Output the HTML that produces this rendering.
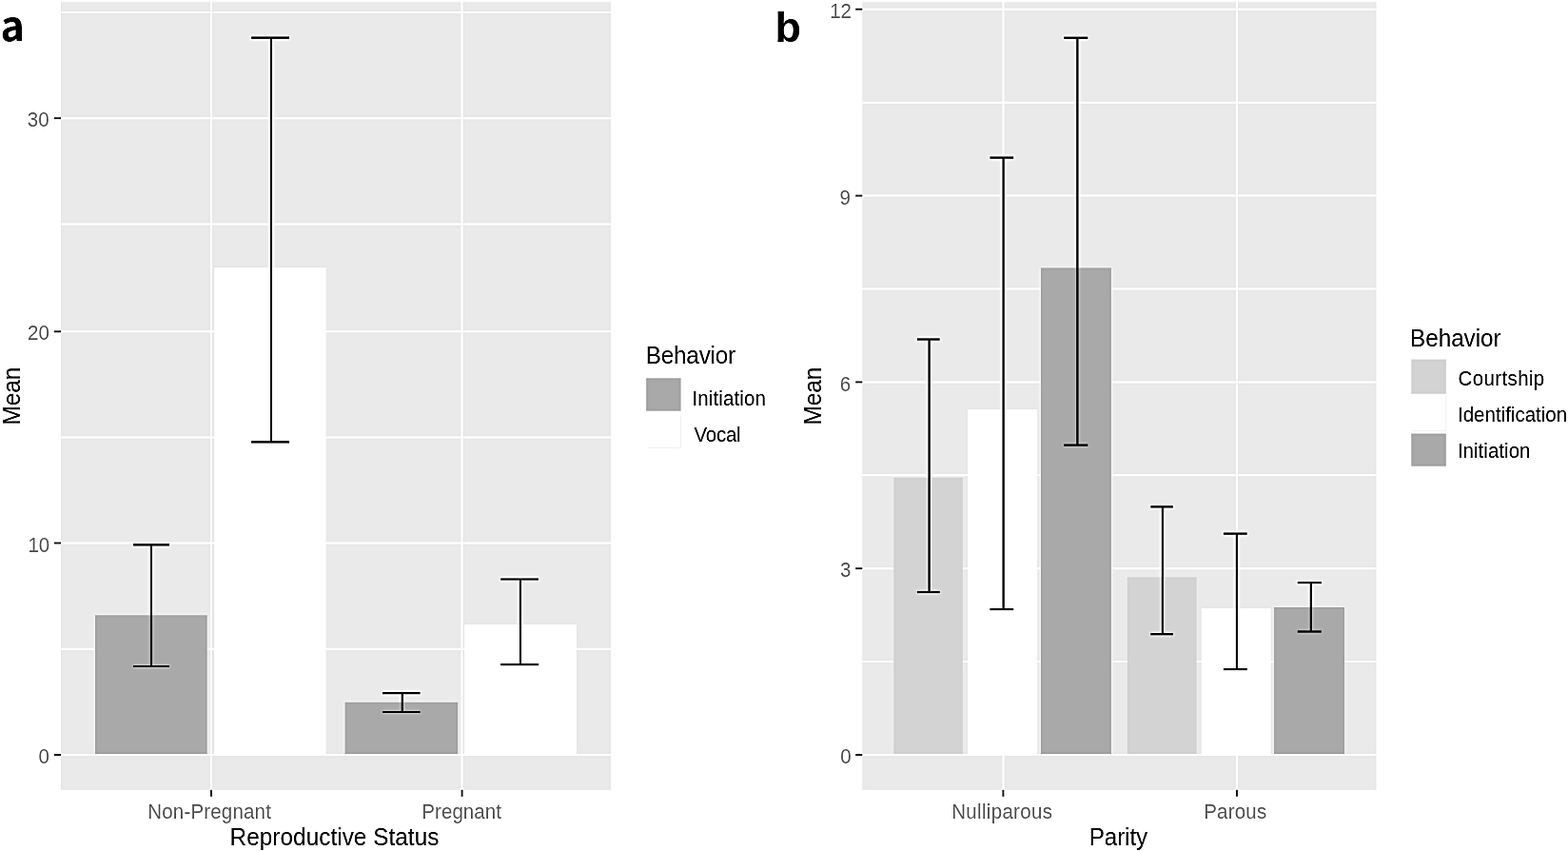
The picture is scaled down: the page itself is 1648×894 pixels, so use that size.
<!DOCTYPE html>
<html><head><meta charset="utf-8"><title>Figure</title>
<style>
html,body{margin:0;padding:0;background:#fff;width:1648px;height:894px;overflow:hidden}
svg{display:block}
text{font-family:"Liberation Sans", Arial, Helvetica, sans-serif}
</style></head><body>
<svg width="1648" height="894" viewBox="0 0 1648 894">
<defs><filter id="usm" filterUnits="userSpaceOnUse" x="0" y="0" width="1648" height="894" color-interpolation-filters="sRGB"><feGaussianBlur in="SourceGraphic" stdDeviation="0.45" result="soft"/><feGaussianBlur in="soft" stdDeviation="1.6" result="bl"/><feComposite in="soft" in2="bl" operator="arithmetic" k1="0" k2="1.6" k3="-0.6" k4="0"/></filter></defs>
<g filter="url(#usm)">
<rect x="0" y="0" width="1648" height="894" fill="#fff"/>
<rect x="64.00" y="1.00" width="578.20" height="828.80" fill="#EAEAEA"/>
<line x1="64.00" y1="681.75" x2="642.20" y2="681.75" stroke="#fff" stroke-width="2.0"/>
<line x1="64.00" y1="459.50" x2="642.20" y2="459.50" stroke="#fff" stroke-width="2.0"/>
<line x1="64.00" y1="235.60" x2="642.20" y2="235.60" stroke="#fff" stroke-width="2.0"/>
<line x1="64.00" y1="13.10" x2="642.20" y2="13.10" stroke="#fff" stroke-width="2.0"/>
<line x1="64.00" y1="793.00" x2="642.20" y2="793.00" stroke="#fff" stroke-width="2.0"/>
<line x1="64.00" y1="570.50" x2="642.20" y2="570.50" stroke="#fff" stroke-width="2.0"/>
<line x1="64.00" y1="348.30" x2="642.20" y2="348.30" stroke="#fff" stroke-width="2.0"/>
<line x1="64.00" y1="124.20" x2="642.20" y2="124.20" stroke="#fff" stroke-width="2.0"/>
<line x1="222.00" y1="1.00" x2="222.00" y2="829.80" stroke="#fff" stroke-width="2.0"/>
<line x1="485.50" y1="1.00" x2="485.50" y2="829.80" stroke="#fff" stroke-width="2.0"/>
<rect x="100.00" y="646.30" width="117.70" height="145.90" fill="#A9A9A9"/>
<rect x="225.00" y="281.00" width="117.60" height="511.20" fill="#FFFFFF"/>
<rect x="362.60" y="737.75" width="118.60" height="54.45" fill="#A9A9A9"/>
<rect x="488.00" y="656.10" width="117.80" height="136.10" fill="#FFFFFF"/>
<g stroke="#000" stroke-width="2.2" fill="none"><line x1="140.10" y1="572.30" x2="178.00" y2="572.30"/><line x1="140.10" y1="700.00" x2="178.00" y2="700.00"/><line x1="159.00" y1="572.30" x2="159.00" y2="700.00"/></g>
<g stroke="#000" stroke-width="2.2" fill="none"><line x1="264.20" y1="39.70" x2="304.00" y2="39.70"/><line x1="264.20" y1="464.40" x2="304.00" y2="464.40"/><line x1="285.00" y1="39.70" x2="285.00" y2="464.40"/></g>
<g stroke="#000" stroke-width="2.2" fill="none"><line x1="402.10" y1="728.20" x2="441.50" y2="728.20"/><line x1="402.10" y1="748.00" x2="441.50" y2="748.00"/><line x1="422.80" y1="728.20" x2="422.80" y2="748.00"/></g>
<g stroke="#000" stroke-width="2.2" fill="none"><line x1="526.30" y1="608.50" x2="565.90" y2="608.50"/><line x1="526.30" y1="698.20" x2="565.90" y2="698.20"/><line x1="546.90" y1="608.50" x2="546.90" y2="698.20"/></g>
<line x1="56.90" y1="793.00" x2="64.00" y2="793.00" stroke="#4A4A4A" stroke-width="2.0"/>
<text id="ay0" transform="translate(0 802.00) scale(1 1.05)" x="40.45" y="0" font-size="20.5" fill="#737373" font-weight="normal">0</text>
<line x1="56.90" y1="570.50" x2="64.00" y2="570.50" stroke="#4A4A4A" stroke-width="2.0"/>
<text id="ay10" transform="translate(0 579.70) scale(1 1.05)" x="29.40" y="0" font-size="20.5" fill="#737373" font-weight="normal">10</text>
<line x1="56.90" y1="348.30" x2="64.00" y2="348.30" stroke="#4A4A4A" stroke-width="2.0"/>
<text id="ay20" transform="translate(0 357.30) scale(1 1.05)" x="29.10" y="0" font-size="20.5" fill="#737373" font-weight="normal">20</text>
<line x1="56.90" y1="124.20" x2="64.00" y2="124.20" stroke="#4A4A4A" stroke-width="2.0"/>
<text id="ay30" transform="translate(0 133.20) scale(1 1.05)" x="28.80" y="0" font-size="20.5" fill="#737373" font-weight="normal">30</text>
<line x1="222.00" y1="829.80" x2="222.00" y2="836.80" stroke="#4A4A4A" stroke-width="2.0"/>
<text id="axNon-Pregnant" transform="translate(0 860.00) scale(1 1.05)" x="155.25" y="0" font-size="20.5" fill="#737373" font-weight="normal" textLength="129.64" lengthAdjust="spacing">Non-Pregnant</text>
<line x1="485.60" y1="829.80" x2="485.60" y2="836.80" stroke="#4A4A4A" stroke-width="2.0"/>
<text id="axPregnant" transform="translate(0 860.00) scale(1 1.05)" x="443.35" y="0" font-size="20.5" fill="#737373" font-weight="normal" textLength="83.60" lengthAdjust="spacing">Pregnant</text>
<text id="axt" transform="translate(0 888.20) scale(1 1.05)" x="241.60" y="0" font-size="24.3" fill="#000" font-weight="normal" textLength="219.80" lengthAdjust="spacing">Reproductive Status</text>
<text transform="translate(20.70,416.2) rotate(-90) scale(1 1.05)" x="0" y="0" font-size="24.3" fill="#000" text-anchor="middle">Mean</text>
<text id="atag" transform="translate(0 42.90) scale(1 1.0)" x="0.40" y="0" font-size="43" fill="#000" font-weight="bold" style='font-family:"Noto Sans CJK JP", "Liberation Sans", sans-serif'>a</text>
<text id="alt" transform="translate(0 382.30) scale(1 1.05)" x="678.70" y="0" font-size="24.3" fill="#000" font-weight="normal" textLength="94.51" lengthAdjust="spacing">Behavior</text>
<rect x="679.20" y="397.30" width="36.40" height="34.40" fill="#A9A9A9"/>
<text id="al0" transform="translate(0 425.60) scale(1 1.05)" x="727.50" y="0" font-size="20.5" fill="#000" font-weight="normal" textLength="77.36" lengthAdjust="spacing">Initiation</text>
<path d="M680.70 470.60 H715.60 V436.30" fill="none" stroke="#F3F3F3" stroke-width="1"/>
<text id="al1" transform="translate(0 463.50) scale(1 1.05)" x="729.50" y="0" font-size="20.5" fill="#000" font-weight="normal" textLength="49.16" lengthAdjust="spacing">Vocal</text>
<rect x="906.30" y="1.00" width="540.20" height="828.80" fill="#EAEAEA"/>
<line x1="906.30" y1="695.10" x2="1446.50" y2="695.10" stroke="#fff" stroke-width="2.0"/>
<line x1="906.30" y1="499.30" x2="1446.50" y2="499.30" stroke="#fff" stroke-width="2.0"/>
<line x1="906.30" y1="303.50" x2="1446.50" y2="303.50" stroke="#fff" stroke-width="2.0"/>
<line x1="906.30" y1="107.65" x2="1446.50" y2="107.65" stroke="#fff" stroke-width="2.0"/>
<line x1="906.30" y1="793.00" x2="1446.50" y2="793.00" stroke="#fff" stroke-width="2.0"/>
<line x1="906.30" y1="597.20" x2="1446.50" y2="597.20" stroke="#fff" stroke-width="2.0"/>
<line x1="906.30" y1="401.40" x2="1446.50" y2="401.40" stroke="#fff" stroke-width="2.0"/>
<line x1="906.30" y1="205.60" x2="1446.50" y2="205.60" stroke="#fff" stroke-width="2.0"/>
<line x1="906.30" y1="9.70" x2="1446.50" y2="9.70" stroke="#fff" stroke-width="2.0"/>
<line x1="1054.50" y1="1.00" x2="1054.50" y2="829.80" stroke="#fff" stroke-width="2.0"/>
<line x1="1300.00" y1="1.00" x2="1300.00" y2="829.80" stroke="#fff" stroke-width="2.0"/>
<rect x="939.30" y="501.80" width="72.50" height="290.40" fill="#D3D3D3"/>
<rect x="1017.00" y="430.20" width="73.10" height="362.00" fill="#FFFFFF"/>
<rect x="1094.00" y="281.40" width="73.90" height="510.80" fill="#A9A9A9"/>
<rect x="1184.80" y="606.30" width="72.80" height="185.90" fill="#D3D3D3"/>
<rect x="1262.80" y="639.20" width="72.80" height="153.00" fill="#FFFFFF"/>
<rect x="1339.10" y="638.00" width="74.00" height="154.20" fill="#A9A9A9"/>
<g stroke="#000" stroke-width="2.2" fill="none"><line x1="963.90" y1="356.50" x2="987.60" y2="356.50"/><line x1="963.90" y1="622.00" x2="987.60" y2="622.00"/><line x1="976.60" y1="356.50" x2="976.60" y2="622.00"/></g>
<g stroke="#000" stroke-width="2.2" fill="none"><line x1="1040.50" y1="165.60" x2="1065.20" y2="165.60"/><line x1="1040.50" y1="640.10" x2="1065.20" y2="640.10"/><line x1="1054.60" y1="165.60" x2="1054.60" y2="640.10"/></g>
<g stroke="#000" stroke-width="2.2" fill="none"><line x1="1118.30" y1="39.70" x2="1143.30" y2="39.70"/><line x1="1118.30" y1="467.60" x2="1143.30" y2="467.60"/><line x1="1132.40" y1="39.70" x2="1132.40" y2="467.60"/></g>
<g stroke="#000" stroke-width="2.2" fill="none"><line x1="1209.40" y1="532.40" x2="1232.80" y2="532.40"/><line x1="1209.40" y1="666.20" x2="1232.80" y2="666.20"/><line x1="1221.90" y1="532.40" x2="1221.90" y2="666.20"/></g>
<g stroke="#000" stroke-width="2.2" fill="none"><line x1="1285.90" y1="560.60" x2="1310.60" y2="560.60"/><line x1="1285.90" y1="703.10" x2="1310.60" y2="703.10"/><line x1="1299.90" y1="560.60" x2="1299.90" y2="703.10"/></g>
<g stroke="#000" stroke-width="2.2" fill="none"><line x1="1363.80" y1="612.10" x2="1388.70" y2="612.10"/><line x1="1363.80" y1="663.50" x2="1388.70" y2="663.50"/><line x1="1377.85" y1="612.10" x2="1377.85" y2="663.50"/></g>
<line x1="899.20" y1="793.00" x2="906.30" y2="793.00" stroke="#4A4A4A" stroke-width="2.0"/>
<text id="by0" transform="translate(0 802.00) scale(1 1.05)" x="883.15" y="0" font-size="20.5" fill="#737373" font-weight="normal">0</text>
<line x1="899.20" y1="597.20" x2="906.30" y2="597.20" stroke="#4A4A4A" stroke-width="2.0"/>
<text id="by3" transform="translate(0 606.20) scale(1 1.05)" x="882.90" y="0" font-size="20.5" fill="#737373" font-weight="normal">3</text>
<line x1="899.20" y1="401.40" x2="906.30" y2="401.40" stroke="#4A4A4A" stroke-width="2.0"/>
<text id="by6" transform="translate(0 410.70) scale(1 1.05)" x="882.80" y="0" font-size="20.5" fill="#737373" font-weight="normal">6</text>
<line x1="899.20" y1="205.60" x2="906.30" y2="205.60" stroke="#4A4A4A" stroke-width="2.0"/>
<text id="by9" transform="translate(0 214.80) scale(1 1.05)" x="882.60" y="0" font-size="20.5" fill="#737373" font-weight="normal">9</text>
<line x1="899.20" y1="9.70" x2="906.30" y2="9.70" stroke="#4A4A4A" stroke-width="2.0"/>
<text id="by12" transform="translate(0 18.70) scale(1 1.05)" x="872.20" y="0" font-size="20.5" fill="#737373" font-weight="normal">12</text>
<line x1="1054.40" y1="829.80" x2="1054.40" y2="836.80" stroke="#4A4A4A" stroke-width="2.0"/>
<text id="bxNulliparous" transform="translate(0 860.00) scale(1 1.05)" x="1000.20" y="0" font-size="20.5" fill="#737373" font-weight="normal" textLength="105.76" lengthAdjust="spacing">Nulliparous</text>
<line x1="1300.00" y1="829.80" x2="1300.00" y2="836.80" stroke="#4A4A4A" stroke-width="2.0"/>
<text id="bxParous" transform="translate(0 860.00) scale(1 1.05)" x="1265.20" y="0" font-size="20.5" fill="#737373" font-weight="normal" textLength="65.97" lengthAdjust="spacing">Parous</text>
<text id="bxt" transform="translate(0 888.20) scale(1 1.05)" x="1144.80" y="0" font-size="24.3" fill="#000" font-weight="normal" textLength="61.31" lengthAdjust="spacing">Parity</text>
<text transform="translate(863.40,416.2) rotate(-90) scale(1 1.05)" x="0" y="0" font-size="24.3" fill="#000" text-anchor="middle">Mean</text>
<text id="btag" transform="translate(0 44.00) scale(1 1.0)" x="814.40" y="0" font-size="45" fill="#000" font-weight="bold">b</text>
<text id="blt" transform="translate(0 363.80) scale(1 1.05)" x="1482.10" y="0" font-size="24.3" fill="#000" font-weight="normal" textLength="95.51" lengthAdjust="spacing">Behavior</text>
<rect x="1483.30" y="377.50" width="36.50" height="36.20" fill="#D3D3D3"/>
<text id="bl0" transform="translate(0 405.00) scale(1 1.05)" x="1532.50" y="0" font-size="20.5" fill="#000" font-weight="normal" textLength="90.75" lengthAdjust="spacing">Courtship</text>
<path d="M1484.80 452.60 H1519.80 V417.00" fill="none" stroke="#F3F3F3" stroke-width="1"/>
<text id="bl1" transform="translate(0 443.30) scale(1 1.05)" x="1532.00" y="0" font-size="20.5" fill="#000" font-weight="normal" textLength="115.11" lengthAdjust="spacing">Identification</text>
<rect x="1483.30" y="455.50" width="36.50" height="34.20" fill="#A9A9A9"/>
<text id="bl2" transform="translate(0 481.20) scale(1 1.05)" x="1531.90" y="0" font-size="20.5" fill="#000" font-weight="normal" textLength="76.56" lengthAdjust="spacing">Initiation</text>
</g>
</svg>
</body></html>
